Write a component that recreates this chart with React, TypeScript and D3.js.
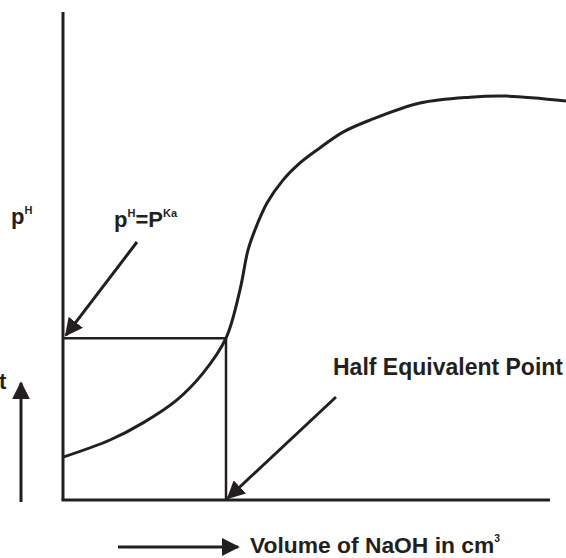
import React from "react";
import * as d3 from "d3";

// Titration curve: volume of NaOH (arbitrary units) vs pH
const volume = [0, 0.94, 1.6, 2.28, 2.8, 3.26, 3.54, 3.7, 3.84, 4.08, 4.4, 4.74, 5.08, 5.6, 6.14, 7.14, 8.14, 8.88, 10.06];
const ph = [1.25, 1.75, 2.25, 2.92, 3.7, 4.72, 6.13, 7.29, 7.88, 8.66, 9.33, 9.83, 10.21, 10.73, 11.08, 11.58, 11.75, 11.78, 11.64];
const halfEqVolume = 3.26;
const halfEqPh = 4.72;

const W = 566;
const H = 558;
const ink = "#231f20";

export default function App() {
  const x = d3.scaleLinear().domain([0, 10]).range([63, 563]);
  const y = d3.scaleLinear().domain([0, 14]).range([500, 20]);
  const pts: [number, number][] = volume.map((v, i) => [v, ph[i]]);
  const line = d3
    .line<[number, number]>()
    .x((d) => x(d[0]))
    .y((d) => y(d[1]))
    .curve(d3.curveCatmullRom.alpha(0.5));

  const font = "'Liberation Sans', Arial, sans-serif";

  return (
    <svg width={W} height={H} style={{ position: "absolute", left: 0, top: 0, background: "#fff" }}>
      <defs>
        <marker id="ah" viewBox="0 0 10 10" refX="9" refY="5" markerWidth="6" markerHeight="6" orient="auto" markerUnits="strokeWidth">
          <path d="M0,0 L10,5 L0,10 z" fill={ink} />
        </marker>
      </defs>
      {/* axes */}
      <line x1={x(0)} y1={12} x2={x(0)} y2={y(0)} stroke={ink} strokeWidth={3} />
      <line x1={x(0) - 1.5} y1={y(0)} x2={550} y2={y(0)} stroke={ink} strokeWidth={3} />
      {/* half equivalence box */}
      <line x1={x(0)} y1={y(halfEqPh)} x2={x(halfEqVolume)} y2={y(halfEqPh)} stroke={ink} strokeWidth={2.5} />
      <line x1={x(halfEqVolume)} y1={y(halfEqPh)} x2={x(halfEqVolume)} y2={y(0)} stroke={ink} strokeWidth={2.5} />
      {/* curve */}
      <path d={line(pts) || ""} fill="none" stroke={ink} strokeWidth={3} />
      {/* annotation arrows */}
      <line x1={137} y1={242} x2={x(0) + 3} y2={y(halfEqPh) - 3} stroke={ink} strokeWidth={3} markerEnd="url(#ah)" />
      <line x1={336} y1={397} x2={x(halfEqVolume) + 2} y2={y(0) - 2} stroke={ink} strokeWidth={3} markerEnd="url(#ah)" />
      <line x1={21} y1={502} x2={21} y2={383} stroke={ink} strokeWidth={3} markerEnd="url(#ah)" />
      <line x1={118} y1={547} x2={238} y2={547} stroke={ink} strokeWidth={3} markerEnd="url(#ah)" />
      {/* texts */}
      <g fontFamily={font} fontWeight="bold" fill={ink}>
        <text x={11} y={224} fontSize={22}>
          p<tspan fontSize={11} dy={-10}>H</tspan>
        </text>
        <text x={114} y={227} fontSize={22}>
          p<tspan fontSize={11} dy={-10}>H</tspan>
          <tspan dy={10}>=P</tspan>
          <tspan fontSize={11} dy={-10}>Ka</tspan>
        </text>
        <text x={333} y={375} fontSize={23}>Half Equivalent Point</text>
        <text x={250} y={553} fontSize={22} textLength={250} lengthAdjust="spacingAndGlyphs">
          Volume of NaOH in cm<tspan fontSize={10} dy={-11}>3</tspan>
        </text>
        <text x={-1} y={389} fontSize={22}>t</text>
      </g>
    </svg>
  );
}
